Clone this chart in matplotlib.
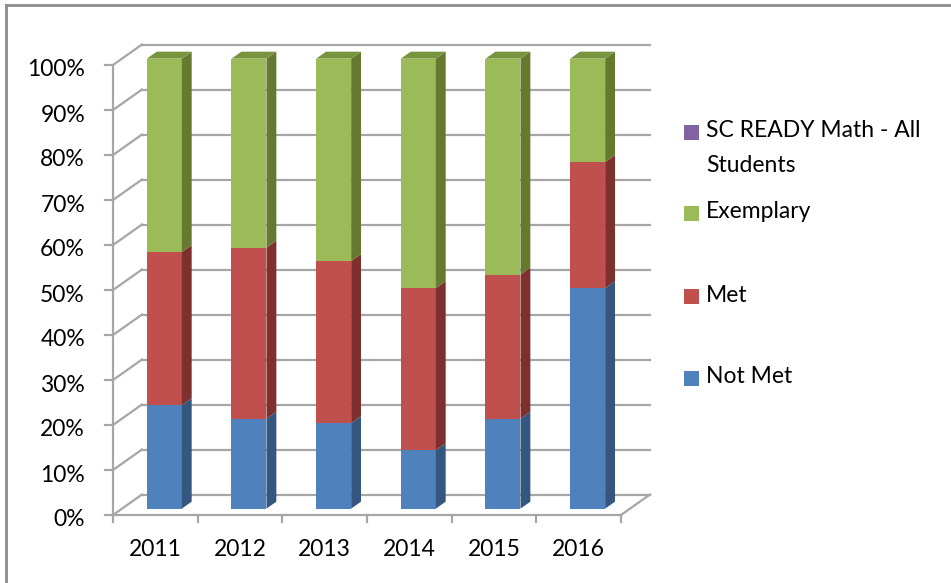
import matplotlib
matplotlib.use("Agg")
import matplotlib.pyplot as plt
from matplotlib.patches import Polygon, Rectangle

plt.rcParams["font.family"] = ["Lato", "DejaVu Sans"]

years = ["2011", "2012", "2013", "2014", "2015", "2016"]
not_met = [23, 20, 19, 13, 20, 49]
met = [34, 38, 36, 36, 32, 28]
exemplary = [43, 42, 45, 51, 48, 23]
y_ticks = [0, 10, 20, 30, 40, 50, 60, 70, 80, 90, 100]

series = [
    ("Not Met", not_met, "#4F81BD", "#35577F", "#42699A"),
    ("Met", met, "#C0504D", "#7E302E", "#9A3C3A"),
    ("Exemplary", exemplary, "#9BBB59", "#65792F", "#77933C"),
]
legend_items = [
    ("SC READY Math - All\nStudents", "#8064A2"),
    ("Exemplary", "#9BBB59"),
    ("Met", "#C0504D"),
    ("Not Met", "#4F81BD"),
]

W, H = 951, 583
fig = plt.figure(figsize=(W / 100, H / 100), dpi=100)

# front plane of the 3d box, in pixels
left, right, top, bottom = 113, 621, 65, 515
ax = fig.add_axes([left / W, 1 - bottom / H, (right - left) / W, (bottom - top) / H])
ax.set_xlim(0, 6)
ax.set_ylim(0, 100)
ax.axis("off")

n = len(years)
px_x = (right - left) / n
px_y = (bottom - top) / 100
dx, dy = 29 / px_x, 20.5 / px_y      # wall depth in data units
grid_c = "#A6A6A6"
lw = 1.6

# back wall, left wall and floor lines
for v in y_ticks:
    ax.plot([dx, n + dx], [v + dy, v + dy], color=grid_c, lw=lw, clip_on=False, zorder=1)
    ax.plot([0, dx], [v, v + dy], color=grid_c, lw=lw, clip_on=False, zorder=1)
    ax.plot([-8 / px_x, 0], [v, v], color=grid_c, lw=lw, clip_on=False, zorder=1)
    ax.text(-28 / px_x, v - 5 / px_y, f"{v}%", ha="right", va="center", fontsize=16.5,
            color="#000000")
ax.plot([0, 0], [0, 100], color=grid_c, lw=lw, clip_on=False, zorder=1)
ax.plot([0, n], [0, 0], color=grid_c, lw=lw, clip_on=False, zorder=1)
ax.plot([n, n + dx], [0, dy], color=grid_c, lw=lw, clip_on=False, zorder=1)
for i in range(n + 1):
    ax.plot([i, i], [0, -7 / px_y], color=grid_c, lw=lw, clip_on=False, zorder=1)
for i, yr in enumerate(years):
    ax.text(i + 0.5, -34 / px_y, yr, ha="center", va="center", fontsize=16.5)

# bars
f0, fd = 0.31, 0.34
bw = 35 / px_x
for i in range(n):
    cx = i + 0.5 + f0 * dx
    y0 = f0 * dy
    x0, x1 = cx - bw / 2, cx + bw / 2
    ox, oy = fd * dx, fd * dy
    base = 0
    for k, (name, vals, face, side, topc) in enumerate(series):
        b0 = base + y0
        b1 = base + vals[i] + y0
        ax.add_patch(Polygon([(x0, b0), (x1, b0), (x1, b1), (x0, b1)], closed=True,
                             facecolor=face, edgecolor="none", zorder=3, clip_on=False))
        ax.add_patch(Polygon([(x1, b0), (x1 + ox, b0 + oy), (x1 + ox, b1 + oy), (x1, b1)],
                             closed=True, facecolor=side, edgecolor="none", zorder=3,
                             clip_on=False))
        if k == len(series) - 1:
            ax.add_patch(Polygon([(x0, b1), (x1, b1), (x1 + ox, b1 + oy), (x0 + ox, b1 + oy)],
                                 closed=True, facecolor=topc, edgecolor="none", zorder=3,
                                 clip_on=False))
        base += vals[i]

# legend
leg_y = [132, 213, 297, 378]
for (label, col), yy in zip(legend_items, leg_y):
    fig.patches.append(Rectangle((684 / W, 1 - (yy + 7.5) / H), 15 / W, 15 / H,
                                 transform=fig.transFigure, facecolor=col, edgecolor="none"))
    fig.text(706 / W, 1 - (yy - 12) / H, label, ha="left", va="top", fontsize=16.5,
             linespacing=1.8)

# chart border (only top and left edges visible)
fig.add_artist(plt.Line2D([6 / W, 6 / W], [0, 1 - 5 / H], color="#8C8C8C", lw=2,
                          transform=fig.transFigure))
fig.add_artist(plt.Line2D([6 / W, 1], [1 - 5 / H, 1 - 5 / H], color="#8C8C8C", lw=2,
                          transform=fig.transFigure))

fig.savefig("out.png", dpi=100)
